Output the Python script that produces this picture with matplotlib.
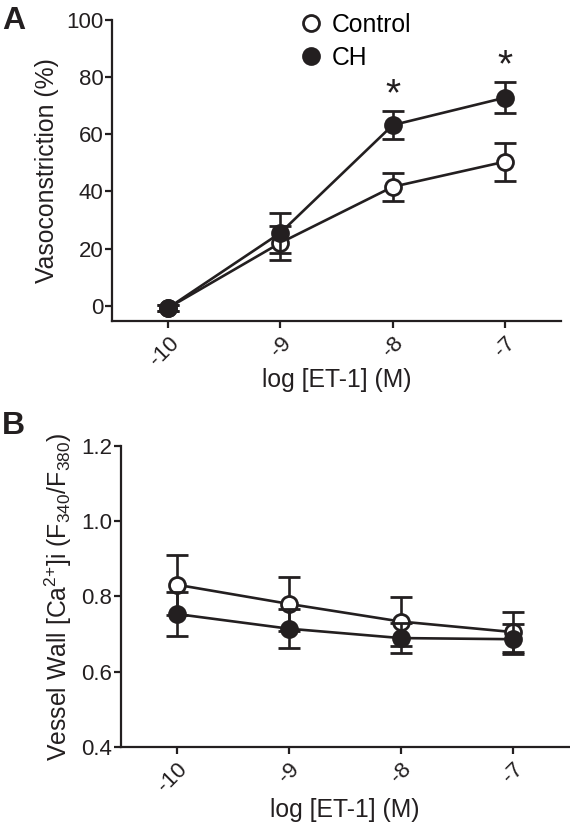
import matplotlib
matplotlib.use("Agg")
import matplotlib.pyplot as plt
from matplotlib.lines import Line2D

plt.rcParams['font.family'] = ['Liberation Sans', 'DejaVu Sans']
plt.rcParams['mathtext.default'] = 'regular'

log_et1 = [-10, -9, -8, -7]
tick_labels = ['-10', '-9', '-8', '-7']

# panel A: vasoconstriction (%)
ctrl_vc = [-0.8, 22.0, 41.6, 50.4]
ctrl_vc_err = [1.0, 6.0, 5.0, 6.6]
ch_vc = [-0.8, 25.5, 63.2, 72.8]
ch_vc_err = [1.0, 7.0, 5.0, 5.5]
signif = [-8, -7]

# panel B: vessel wall [Ca2+]i
ctrl_ca = [0.831, 0.780, 0.733, 0.705]
ctrl_ca_err = [0.080, 0.072, 0.064, 0.054]
ch_ca = [0.753, 0.714, 0.689, 0.686]
ch_ca_err = [0.058, 0.052, 0.040, 0.040]

ink = '#231f20'
fig = plt.figure(figsize=(5.7, 8.25), dpi=100)
axA = fig.add_axes([0.1965, 0.6115, 0.788, 0.3643])
axB = fig.add_axes([0.2118, 0.0949, 0.786, 0.3645])

lw = 1.9
ms = 11.5


def draw(ax, y1, e1, y2, e2):
    ax.errorbar(log_et1, y1, yerr=e1, color=ink, lw=lw, marker='o', ms=ms,
                mfc='white', mec=ink, mew=2.0, capsize=8, capthick=lw,
                elinewidth=lw, zorder=3, clip_on=False)
    ax.errorbar(log_et1, y2, yerr=e2, color=ink, lw=lw, marker='o', ms=ms,
                mfc=ink, mec=ink, mew=2.0, capsize=8, capthick=lw,
                elinewidth=lw, zorder=4, clip_on=False)
    ax.set_xlim(-10.5, -6.5)
    ax.set_xticks(log_et1)
    ax.set_xticklabels(tick_labels, rotation=45, ha='right', va='top',
                       rotation_mode='anchor')
    ax.spines['top'].set_visible(False)
    ax.spines['right'].set_visible(False)
    for s in ['left', 'bottom']:
        ax.spines[s].set_linewidth(1.6)
        ax.spines[s].set_color(ink)
    ax.tick_params(direction='out', length=5, width=1.6, labelsize=16,
                   colors=ink)
    ax.tick_params(axis='y', pad=1)
    ax.tick_params(axis='x', pad=4)


draw(axA, ctrl_vc, ctrl_vc_err, ch_vc, ch_vc_err)
axA.set_ylim(-5.2, 100)
axA.set_yticks([0, 20, 40, 60, 80, 100])
axA.set_ylabel('Vasoconstriction (%)', fontsize=17.8, color=ink, labelpad=5)
axA.set_xlabel('log [ET-1] (M)', fontsize=17.8, color=ink, labelpad=-2)
for x in signif:
    i = log_et1.index(x)
    axA.annotate('*', xy=(x, ch_vc[i] + ch_vc_err[i]), xytext=(0, -2),
                 textcoords='offset points', ha='center', va='bottom',
                 fontsize=28, color=ink)

handles = [Line2D([], [], ls='none', marker='o', ms=ms, mfc='white',
                  mec=ink, mew=2.0),
           Line2D([], [], ls='none', marker='o', ms=ms, mfc=ink,
                  mec=ink, mew=2.0)]
axA.legend(handles, ['Control', 'CH'], loc='upper left',
           bbox_to_anchor=(0.365, 1.097), frameon=False, fontsize=17.8,
           handletextpad=0.35, labelspacing=0.35, handlelength=1.0)

draw(axB, ctrl_ca, ctrl_ca_err, ch_ca, ch_ca_err)
axB.set_ylim(0.4, 1.2)
axB.set_yticks([0.4, 0.6, 0.8, 1.0, 1.2])
axB.set_yticklabels(['0.4', '0.6', '0.8', '1.0', '1.2'])
axB.set_ylabel('Vessel Wall [Ca$^{2{+}}$]i (F$_{340}$/F$_{380}$)',
               fontsize=17.8, color=ink, labelpad=5)
axB.set_xlabel('log [ET-1] (M)', fontsize=17.8, color=ink, labelpad=1)

fig.text(0.004, 0.993, 'A', fontsize=23, fontweight='bold', va='top',
         color=ink)
fig.text(0.004, 0.502, 'B', fontsize=23, fontweight='bold', va='top',
         color=ink)

fig.savefig('out.png', dpi=100)
